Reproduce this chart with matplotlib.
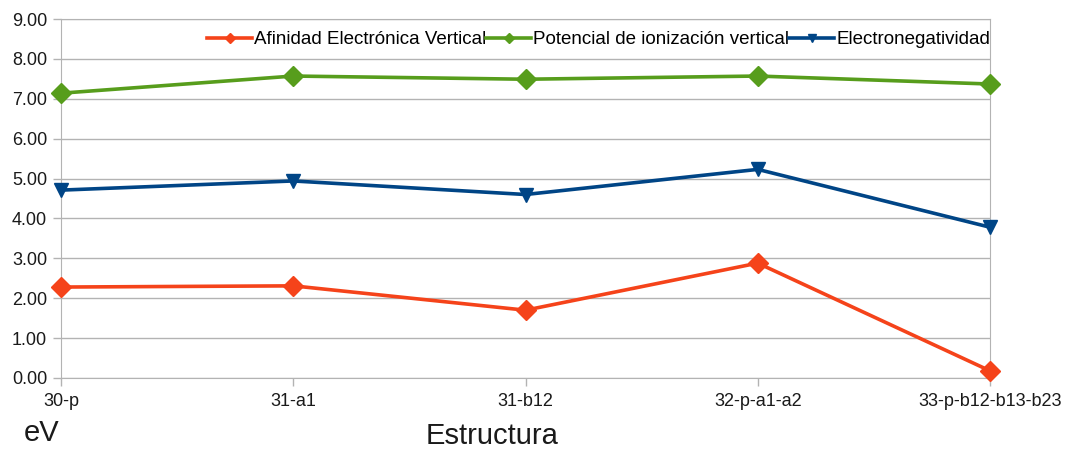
import matplotlib.pyplot as plt

# datos
estructuras = ['30-p', '31-a1', '31-b12', '32-p-a1-a2', '33-p-b12-b13-b23']
afinidad = [2.28, 2.31, 1.70, 2.88, 0.18]
potencial = [7.14, 7.57, 7.49, 7.57, 7.37]
electroneg = [4.71, 4.94, 4.60, 5.23, 3.78]

plt.rcParams['font.family'] = ['Liberation Sans', 'DejaVu Sans']

fig = plt.figure(figsize=(10.65, 4.49), dpi=100)
ax = fig.add_axes([61 / 1065, 1 - 378 / 449, (990 - 61) / 1065, (378 - 19) / 449])

x = range(len(estructuras))
estilo = dict(lw=2.6, ms=10, zorder=3, clip_on=False)
ax.plot(x, afinidad, color='#f5431a', marker='D',
        label='Afinidad Electrónica Vertical', **estilo)
ax.plot(x, potencial, color='#579d1c', marker='D',
        label='Potencial de ionización vertical', **estilo)
ax.plot(x, electroneg, color='#004586', marker='v',
        label='Electronegatividad', **estilo)

ax.set_xlim(0, len(estructuras) - 1)
ax.set_ylim(0, 9)
ax.set_yticks(range(10))
ax.set_yticklabels([f'{v:.2f}' for v in range(10)])
ax.set_xticks(list(x))
ax.set_xticklabels(estructuras)
ax.grid(axis='y', color='#b3b3b3', lw=1)
ax.set_axisbelow(True)
for s in ax.spines.values():
    s.set_color('#b3b3b3')
ax.tick_params(colors='#b3b3b3', labelcolor='#1a1a1a', labelsize=13, length=6, width=1)
ax.tick_params(axis='x', pad=5)
ax.tick_params(axis='y', pad=4)

ax.legend(loc='center right', bbox_to_anchor=(1.0, 8.48 / 9), ncol=3, frameon=False,
          fontsize=13.5, handlelength=2.4, handletextpad=0.1, columnspacing=0.0,
          markerscale=0.55, borderaxespad=0, borderpad=0)

fig.text(24 / 1065, 1 - 433 / 449, 'eV', fontsize=21, va='center', ha='left', color='#1a1a1a')
fig.text(492 / 1065, 1 - 436 / 449, 'Estructura', fontsize=21, va='center', ha='center', color='#1a1a1a')

fig.savefig('out.png', dpi=100)
